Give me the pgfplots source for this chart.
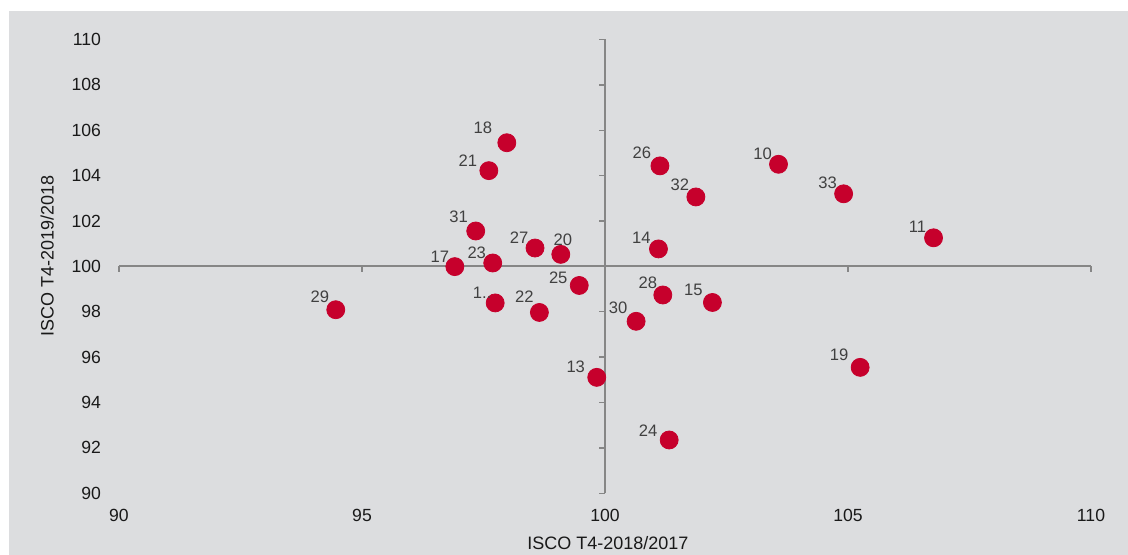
\documentclass[border=0pt]{standalone}
\usepackage{pgfplots}
\usepackage{pgfplotstable}
\pgfplotsset{compat=1.18}
\usepackage{fontspec}
\setmainfont{Liberation Sans}
\definecolor{bg}{RGB}{220,221,223}
\definecolor{dot}{RGB}{198,0,44}
\definecolor{axisgray}{RGB}{134,134,134}
\definecolor{lab}{RGB}{64,64,64}

\pgfplotstableread{
label x y dx dy
18 97.98 105.45 -12 7.5
21 97.61 104.22 -10.5 5
31 97.34 101.56 -8.5 7
17 96.91 99.99 -7.5 5
23 97.69 100.15 -8 5
27 98.56 100.81 -8 5
20 99.09 100.53 1 7.5
25 99.47 99.16 -10.5 4
1.. 97.74 98.39 -6.5 5
22 98.65 97.97 -7.5 8
29 94.46 98.09 -8 6.5
13 99.83 95.11 -10.5 5.5
30 100.64 97.58 -9 7
28 101.19 98.74 -7.5 6
15 102.21 98.41 -9.5 6.5
24 101.32 92.35 -10.5 4.5
10 103.57 104.50 -8 5.5
33 104.91 103.20 -8 5.5
11 106.76 101.26 -8 5.5
19 105.25 95.55 -10.5 6.5
14 101.10 100.77 -8.5 5.5
26 101.13 104.43 -9 6.5
32 101.87 103.06 -8 6
}\data

\begin{document}
\begin{tikzpicture}
\fill[bg] (-55pt,-30.85pt) rectangle (504.5pt,241.15pt);
\path[use as bounding box] (-59.5pt,-30.85pt) rectangle (504.5pt,246.65pt);
\begin{axis}[
  at={(0,0)}, anchor=south west,
  scale only axis, width=486pt, height=226.9pt,
  xmin=90, xmax=110, ymin=90, ymax=110,
  axis line style={draw=none},
  major tick length=0pt,
  xtick={90,95,100,105,110},
  ytick={90,92,94,96,98,100,102,104,106,108,110},
  /pgf/number format/assume math mode=true,
  ticklabel style={font=\fontsize{8.8}{10}\selectfont, text=black!90},
  yticklabel style={xshift=-5.5pt},
  xticklabel style={yshift=-4.5pt},
  xlabel={ISCO T4-2018/2017},
  ylabel={ISCO T4-2019/2018},
  label style={font=\fontsize{9}{10}\selectfont, text=black!90},
  x label style={at={(axis description cs:0.503,-0.1097)}, anchor=center},
  y label style={at={(axis description cs:-0.074,0.522)}, anchor=center},
  clip=false,
]
\draw[axisgray, line width=1pt] (axis cs:90,100) -- (axis cs:110,100);
\draw[axisgray, line width=1pt] (axis cs:100,90) -- (axis cs:100,110);
\pgfplotsinvokeforeach{90,92,94,96,98,100,102,104,106,108,110}{
  \draw[axisgray, line width=0.7pt] (axis cs:100,#1) -- ++(-3pt,0pt);
}
\pgfplotsinvokeforeach{90,95,100,105,110}{
  \draw[axisgray, line width=0.7pt] (axis cs:#1,100) -- ++(0pt,-3pt);
}
\addplot[only marks, mark=*, mark size=4.5pt, mark options={draw=dot, fill=dot},
  nodes near coords, point meta=explicit symbolic,
  visualization depends on={\thisrow{dx} \as \dx},
  visualization depends on={\thisrow{dy} \as \dy},
  nodes near coords style={anchor=center, xshift={\dx*1pt}, yshift={\dy*1pt},
    font=\fontsize{8.3}{9}\selectfont, text=lab, inner sep=0pt}]
  table[x=x, y=y, meta=label] {\data};
\end{axis}
\end{tikzpicture}
\end{document}
